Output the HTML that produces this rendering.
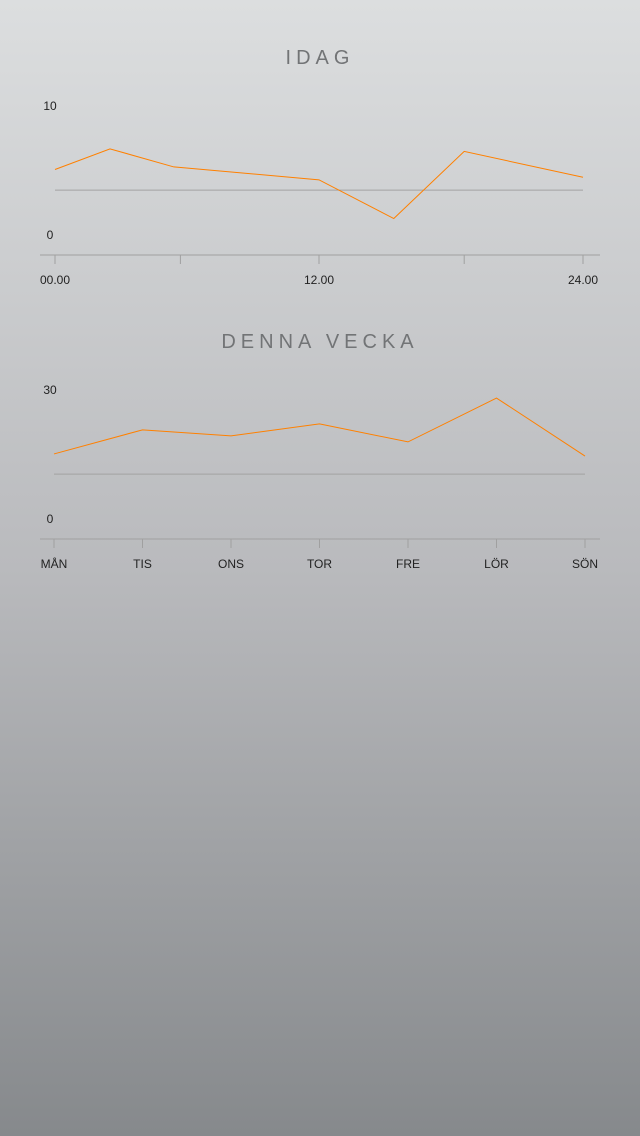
<!DOCTYPE html>
<html><head><meta charset="utf-8"><style>
html,body{margin:0;padding:0;width:640px;height:1136px;overflow:hidden}
body{background:linear-gradient(#dcdedf,#b9babd 50%,#86898c);font-family:"Liberation Sans",sans-serif}
svg{position:absolute;left:0;top:0}
</style></head><body>
<svg id="s" width="640" height="1136"></svg>
<script>
const todayHours=[0,2.5,5.4,12,15.4,18.6,24];
const todayValues=[5.0,6.6,5.2,4.2,1.2,6.4,4.4];
const todayAvg=[3.4];
const todayTicks=[0,5.7,12,18.6,24];
const todayTickLabels=["00.00","","12.00","","24.00"];
const todayYLabels=[10,0];
const weekDays=["MÅN","TIS","ONS","TOR","FRE","LÖR","SÖN"];
const weekValues=[14.9,20.5,19.1,21.9,17.7,27.9,14.4];
const weekAvg=[10.2];
const weekYLabels=[30,0];
const NS="http://www.w3.org/2000/svg";
const svg=document.getElementById('s');
function mk(t,a,txt){const e=document.createElementNS(NS,t);for(const k in a)e.setAttribute(k,a[k]);if(txt!==undefined)e.textContent=txt;svg.appendChild(e);return e;}
function chart(cfg){
  const {title,titleY,x0,x1,dMin,dMax,yTop,yBot,vMax,axisY,xs,vals,avg,ticks,tickLabels,yLabels,key}=cfg;
  const X=v=>x0+(v-dMin)/(dMax-dMin)*(x1-x0);
  const Y=v=>yBot-v/vMax*(yBot-yTop);
  let t=mk('text',{x:320,y:titleY,'text-anchor':'middle','font-size':20,fill:'#727476','letter-spacing':5},title);
  
  
  yLabels.forEach(v=>{let l=mk('text',{x:50,y:Y(v)+5,'text-anchor':'middle','font-size':12,fill:'#222'},v);
    
    });
  let a=mk('line',{x1:x0,x2:x1,y1:Y(avg[0]),y2:Y(avg[0]),stroke:'#a2a2a2','stroke-width':1});
  
  
  let ax=mk('line',{x1:40,x2:600,y1:axisY,y2:axisY,stroke:'#a0a0a0','stroke-width':1});
  
  
  ticks.forEach((v,i)=>{let tk=mk('line',{x1:X(v),x2:X(v),y1:axisY,y2:axisY+9,stroke:'#a0a0a0','stroke-width':1});
    
    
    if(tickLabels[i]){let l=mk('text',{x:X(v),y:axisY+29,'text-anchor':'middle','font-size':12,fill:'#222'},tickLabels[i]);
      
      }});
  let p=mk('polyline',{points:vals.map((v,i)=>X(xs[i])+','+Y(v)).join(' '),fill:'none',stroke:'#ff8000','stroke-width':1});
  
  
}
chart({title:"IDAG",titleY:64,x0:55,x1:583,dMin:0,dMax:24,yTop:105,yBot:234,vMax:10,axisY:255,
  xs:todayHours,vals:todayValues,avg:todayAvg,ticks:todayTicks,tickLabels:todayTickLabels,yLabels:todayYLabels,key:'today'});
const wIdx=weekDays.map((d,i)=>i);
chart({title:"DENNA VECKA",titleY:348,x0:54,x1:585,dMin:0,dMax:6,yTop:389,yBot:518,vMax:30,axisY:539,
  xs:wIdx,vals:weekValues,avg:weekAvg,ticks:wIdx,tickLabels:weekDays,yLabels:weekYLabels,key:'week'});
</script>
</body></html>
